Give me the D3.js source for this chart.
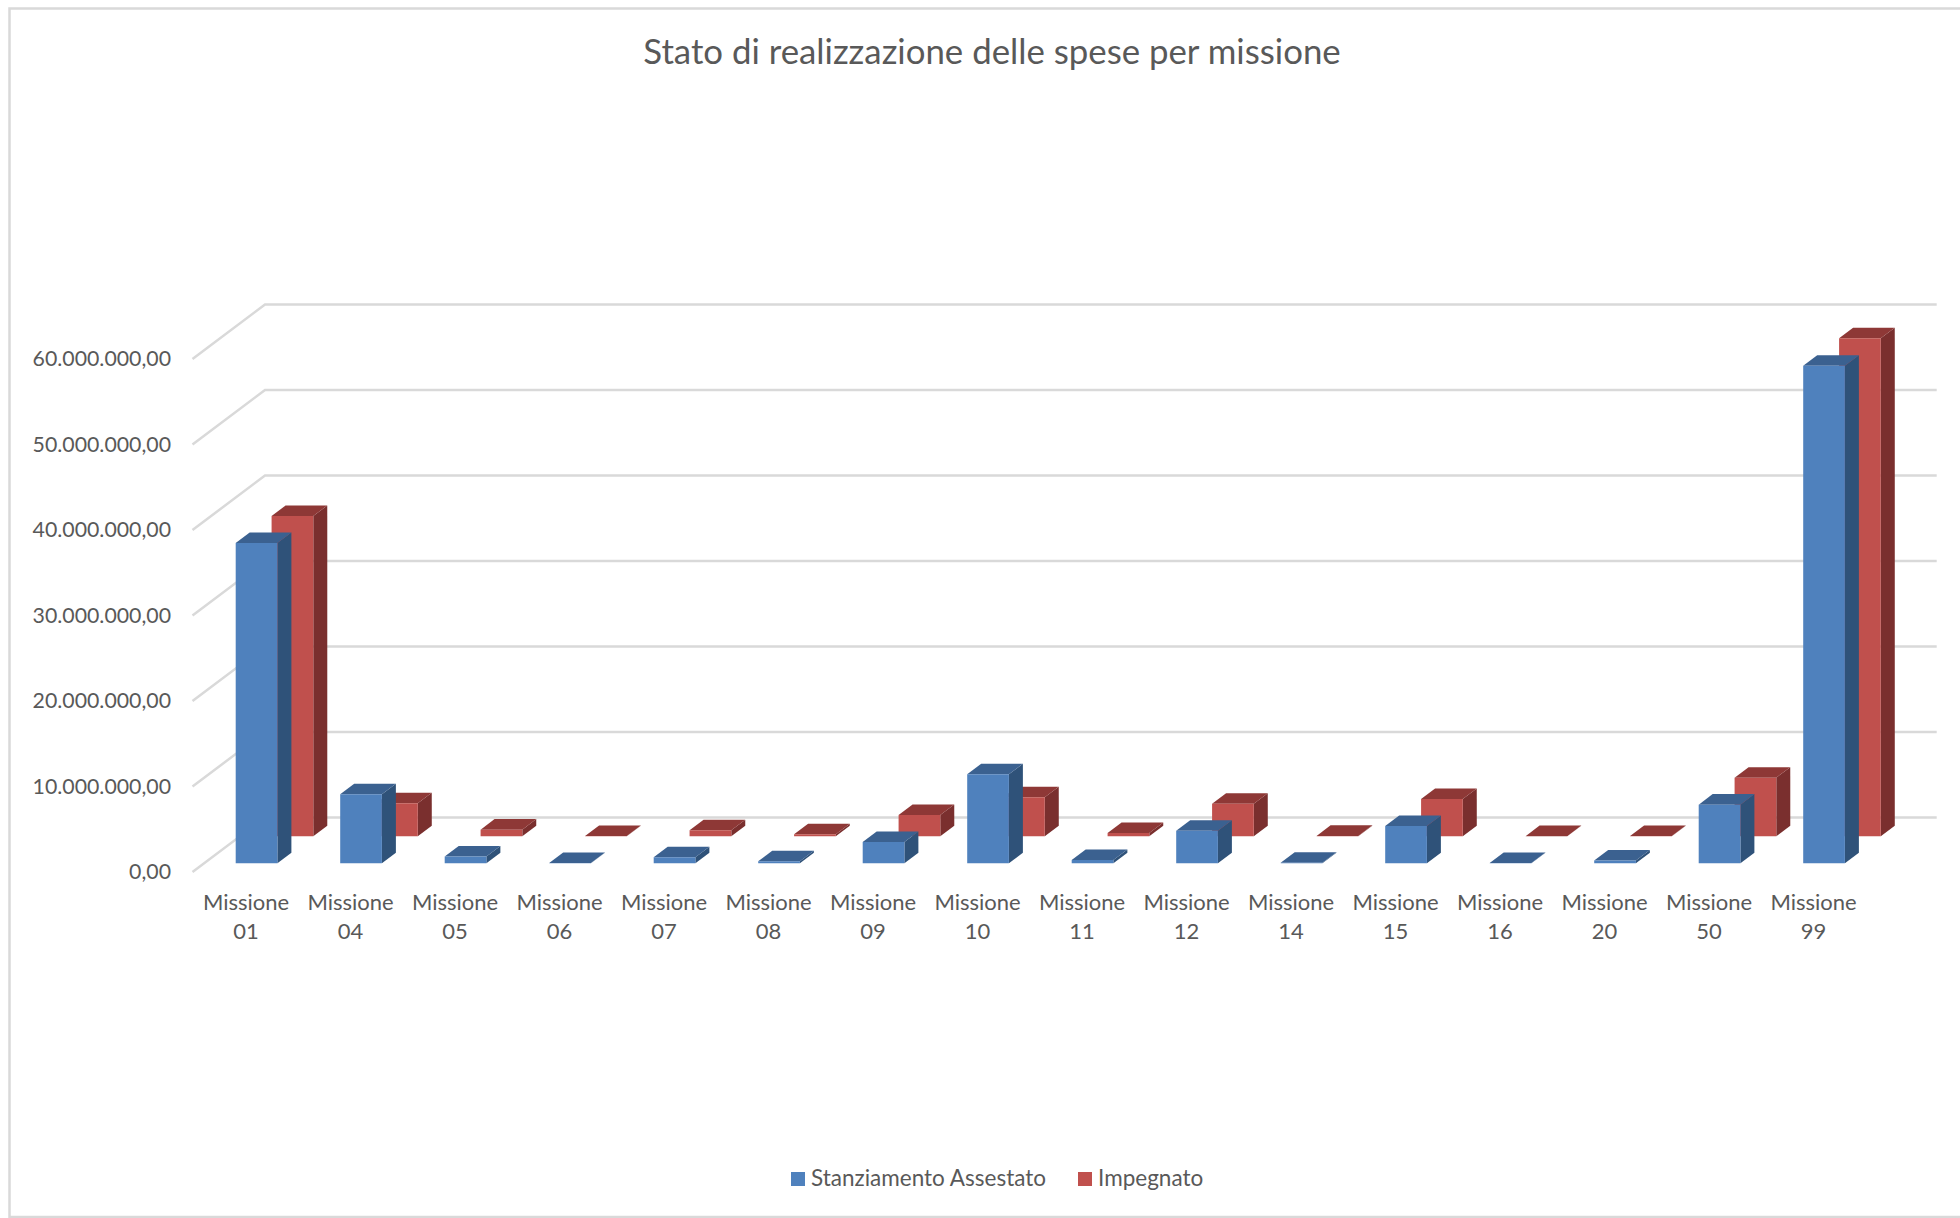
<!DOCTYPE html>
<html>
  <head>
    <title>Stato di realizzazione delle spese per missione</title>
    <style type="text/css">
      html, body { margin: 0; padding: 0; background: #fff; }
      svg { display: block; }
      text { font-family: Lato, "Open Sans", sans-serif; fill: #595959; }
      .grid { fill: none; stroke: #d9d9d9; stroke-width: 2.5; }
    </style>
  </head>
  <body>
    <svg id="screen" width="1960" height="1218" viewBox="0 0 1960 1218"></svg>

    <script src="https://cdn.jsdelivr.net/npm/d3@7"></script>
    <script type="text/javascript">

    var categories = ['01', '04', '05', '06', '07', '08', '09', '10', '11', '12', '14', '15', '16', '20', '50', '99'];

    var stanziamento = [37450000, 8070000, 780000, 30000, 700000, 230000, 2500000, 10400000,
                        390000, 3800000, 50000, 4370000, 20000, 320000, 6860000, 58200000];
    var impegnato = [37460000, 3860000, 780000, 30000, 700000, 250000, 2500000, 4560000,
                     390000, 3800000, 50000, 4370000, 20000, 30000, 6860000, 58250000];

    var yTicks = [0, 10000000, 20000000, 30000000, 40000000, 50000000, 60000000];

    var screen = d3.select('#screen');

    var x = d3.scalePoint().domain(categories).range([246, 1813.5]),
        y = d3.scaleLinear().domain([0, 60000000]).range([872, 359]),
        zx = d3.scaleLinear().domain([0, 1]).range([0, 72.5]),
        zy = d3.scaleLinear().domain([0, 1]).range([0, -54.5]);

    var barLeft = -21.9, barWidth = 41.7;

    function pt(px, value, z) {
      return [px + zx(z), y(value) + zy(z)];
    }

    // chart frame, right edge falls outside the crop
    screen.append('path')
      .attr('class', 'grid')
      .attr('d', 'M1962,8.5H9.5V1217H1962');

    // gridlines: oblique floor edge, then along the back wall
    screen.append('g').selectAll('path')
      .data(yTicks)
      .enter().append('path')
      .attr('class', 'grid')
      .attr('d', function(d) {
        var a = pt(192.5, d, 0), b = pt(192.5, d, 1);
        return 'M' + a + 'L' + b + 'H1936.7';
      });

    var itIT = d3.formatLocale({ decimal: ',', thousands: '.', grouping: [3], currency: ['', ' €'] });

    var yAxis = screen.append('g')
      .attr('transform', 'translate(171,0)')
      .call(d3.axisLeft(y).tickValues(yTicks).tickSize(0).tickPadding(0).tickFormat(itIT.format(',.2f')));
    yAxis.select('.domain').remove();
    yAxis.selectAll('text')
      .style('font-size', '21.3px')
      .style('fill', '#595959')
      .style('font-family', 'Lato, sans-serif');

    // one 3d box per value, z0/z1 are the front and back of the series slot
    function drawSeries(values, z0, z1, colors) {
      var g = screen.append('g').selectAll('g')
        .data(values)
        .enter().append('g');

      function face(fill, corners) {
        g.append('polygon')
          .attr('fill', fill)
          .attr('points', function(d, i) {
            var left = x(categories[i]) + barLeft;
            return corners(left, left + barWidth, d).join(' ');
          });
      }

      face(colors.side, function(l, r, v) {
        return [pt(r, 0, z0), pt(r, 0, z1), pt(r, v, z1), pt(r, v, z0)];
      });
      face(colors.top, function(l, r, v) {
        return [pt(l, v, z0), pt(r, v, z0), pt(r, v, z1), pt(l, v, z1)];
      });
      face(colors.front, function(l, r, v) {
        return [pt(l, 0, z0), pt(r, 0, z0), pt(r, v, z0), pt(l, v, z0)];
      });
    }

    drawSeries(impegnato, 0.655, 0.848, { front: '#c0504d', top: '#8e3836', side: '#7a2f2e' });
    drawSeries(stanziamento, 0.16, 0.353, { front: '#4f81bd', top: '#3b6190', side: '#2f5279' });

    // category labels on two lines
    var labels = screen.append('g').selectAll('text')
      .data(categories)
      .enter().append('text')
      .attr('text-anchor', 'middle')
      .style('font-size', '22px');
    labels.append('tspan')
      .attr('x', function(d) { return x(d); })
      .attr('y', 910)
      .text('Missione');
    labels.append('tspan')
      .attr('x', function(d) { return x(d); })
      .attr('y', 939)
      .text(function(d) { return d; });

    screen.append('text')
      .attr('x', 992)
      .attr('y', 64)
      .attr('text-anchor', 'middle')
      .style('font-size', '34.8px')
      .text('Stato di realizzazione delle spese per missione');

    var legendNames = ['Stanziamento Assestato', 'Impegnato'],
        legendColors = ['#4f81bd', '#c0504d'],
        legendX = [791, 1078];

    var legend = screen.append('g').selectAll('g')
      .data(legendNames)
      .enter().append('g')
      .attr('transform', function(d, i) { return 'translate(' + legendX[i] + ',1172)'; });
    legend.append('rect')
      .attr('width', 14)
      .attr('height', 14)
      .attr('fill', function(d, i) { return legendColors[i]; });
    legend.append('text')
      .attr('x', 20)
      .attr('y', 14)
      .style('font-size', '22.5px')
      .text(function(d) { return d; });

    </script>
  </body>
</html>
